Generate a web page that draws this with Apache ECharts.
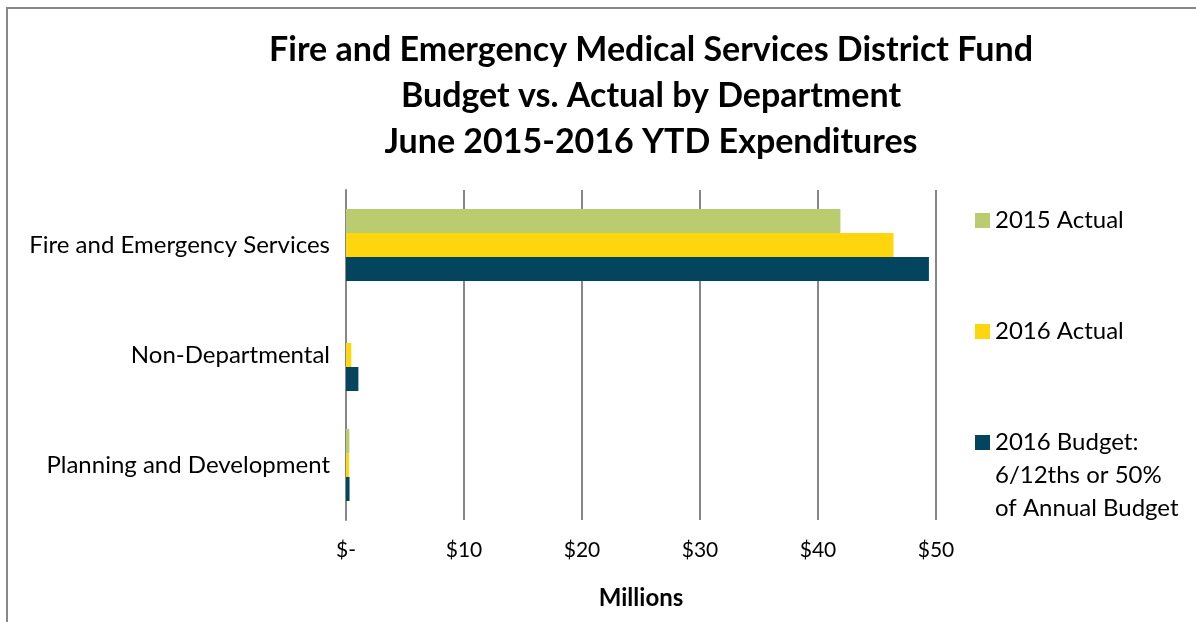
<!DOCTYPE html>
<html lang="en">
<head>
    <meta charset="UTF-8"/>
    <title>Fire and EMS District Fund - Budget vs. Actual</title>
    <style>
        html, body {
            margin: 0;
            padding: 0;
            width: 100vw;
            height: 100vh;
            background: #ffffff;
            overflow: hidden;
        }

        #chart {
            width: 1196px;
            height: 622px;
        }
    </style>
</head>
<body>
<div id="chart"></div>
<script src="https://cdn.jsdelivr.net/npm/echarts@6/dist/echarts.min.js"></script>
<script>
    const departments = ['Fire and Emergency Services', 'Non-Departmental', 'Planning and Development'];
    const actual2015 = [41.9, 0, 0.28];
    const actual2016 = [46.4, 0.45, 0.25];
    const budget2016 = [49.4, 1.05, 0.3];
    const tickLabels = ['$-', '$10', '$20', '$30', '$40', '$50'];

    const seriesNames = ['2015 Actual', '2016 Actual', '2016 Budget:\n6/12ths or 50%\nof Annual Budget'];
    const colors = ['#BBCB70', '#FDD60E', '#03445F'];
    const font = 'Lato, "Open Sans", sans-serif';
    const legendFontSize = 24;

    const chart = echarts.init(document.getElementById('chart'));

    // one legend per series so each can sit at its own height
    function legendFor(i, top) {
        return {
            data: [seriesNames[i]],
            left: 970,
            top: top,
            orient: 'vertical',
            itemWidth: 15,
            itemHeight: 15,
            icon: 'rect',
            selectedMode: false,
            // only the first line sits next to the marker, the rest is drawn below
            formatter: name => name.split('\n')[0],
            textStyle: {
                fontFamily: font,
                fontSize: legendFontSize,
                color: '#000',
                lineHeight: 33
            }
        };
    }

    const extraLines = seriesNames[2].split('\n').slice(1);

    const option = {
        backgroundColor: '#ffffff',
        animation: false,
        title: {
            text: 'Fire and Emergency Medical Services District Fund\nBudget vs. Actual by Department\nJune 2015-2016 YTD Expenditures',
            left: 646,
            top: 22,
            textAlign: 'center',
            textStyle: {
                fontFamily: font,
                fontWeight: 'bold',
                fontSize: 34,
                lineHeight: 46,
                color: '#000'
            }
        },
        legend: [
            legendFor(0, 199),
            legendFor(1, 310),
            legendFor(2, 421)
        ],
        graphic: [{
            type: 'rect',
            shape: {x: 7, y: 8, width: 1220, height: 700},
            style: {fill: 'none', stroke: '#888888', lineWidth: 2},
            silent: true
        }].concat(extraLines.map((line, k) => ({
            type: 'text',
            left: 995,
            top: 463 + k * 33,
            silent: true,
            style: {
                text: line,
                fontFamily: font,
                fontSize: legendFontSize,
                fill: '#000'
            }
        }))),
        grid: {
            left: 346,
            right: 260,
            top: 190,
            bottom: 102,
            containLabel: false
        },
        xAxis: {
            type: 'value',
            min: 0,
            max: 50,
            interval: 10,
            name: 'Millions',
            nameLocation: 'middle',
            nameGap: 66,
            nameTextStyle: {
                fontFamily: font,
                fontWeight: 'bold',
                fontSize: 24,
                color: '#000'
            },
            axisLine: {show: false},
            axisTick: {show: false},
            axisLabel: {
                fontFamily: font,
                fontSize: 21,
                color: '#000',
                margin: 20,
                formatter: v => tickLabels[Math.round(v / 10)]
            },
            splitLine: {
                show: true,
                lineStyle: {color: '#878787', width: 2}
            }
        },
        yAxis: {
            type: 'category',
            data: departments,
            inverse: true,
            axisLine: {show: true, lineStyle: {color: '#878787', width: 2}},
            axisTick: {show: false},
            axisLabel: {
                fontFamily: font,
                fontSize: 24,
                color: '#000',
                margin: 16
            }
        },
        series: [actual2015, actual2016, budget2016].map((data, i) => ({
            name: seriesNames[i],
            type: 'bar',
            data: data,
            barWidth: 24,
            barGap: '0%',
            itemStyle: {color: colors[i]}
        }))
    };

    chart.setOption(option);
</script>
</body>
</html>
